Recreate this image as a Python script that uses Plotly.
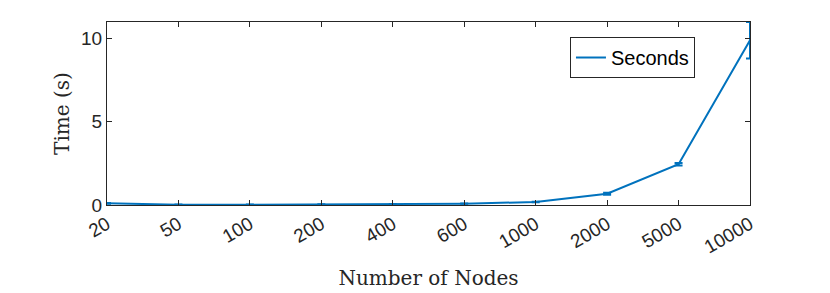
import plotly.graph_objects as go

nodes = ["20", "50", "100", "200", "400", "600", "1000", "2000", "5000", "10000"]
seconds = [0.10, 0.02, 0.02, 0.03, 0.05, 0.08, 0.18, 0.68, 2.45, 9.9]
errors = [0.02, 0.01, 0.01, 0.01, 0.01, 0.01, 0.02, 0.06, 0.08, 1.1]

blue = "#0072BD"
axc = "#262626"

fig = go.Figure()
fig.add_trace(go.Scatter(
    x=nodes, y=seconds, mode="lines", name="Seconds",
    line=dict(color=blue, width=2), cliponaxis=False,
    error_y=dict(type="data", array=errors, visible=True, color=blue, thickness=2, width=4),
))

fig.update_layout(
    width=830, height=293,
    margin=dict(l=107, r=80, t=22, b=88),
    paper_bgcolor="white", plot_bgcolor="white",
    showlegend=True,
    legend=dict(x=0.72, y=0.918, xanchor="left", yanchor="top",
                bgcolor="white", bordercolor=axc, borderwidth=1,
                font=dict(family="Liberation Sans, Arial", size=20, color="black")),
    xaxis=dict(
        type="category", range=[0, 9], automargin=False,
        showline=True, linecolor=axc, linewidth=1, mirror="ticks",
        ticks="inside", ticklen=5, tickcolor=axc, showgrid=False,
        tickangle=-30, tickfont=dict(family="Liberation Sans, Arial", size=19, color=axc),
        title=dict(text="Number of Nodes", font=dict(family="DejaVu Serif, Liberation Serif", size=20, color=axc), standoff=14),
    ),
    yaxis=dict(
        range=[0, 11], tickvals=[0, 5, 10], automargin=False,
        showline=True, linecolor=axc, linewidth=1, mirror="ticks",
        ticks="inside", ticklen=5, tickcolor=axc, showgrid=False, zeroline=False,
        tickfont=dict(family="Liberation Sans, Arial", size=19, color=axc),
        title=dict(text="Time (s)", font=dict(family="DejaVu Serif, Liberation Serif", size=20, color=axc), standoff=6),
    ),
)

fig.write_html("out.html", config={"displayModeBar": False},
               post_script="document.body.style.margin='0';")
